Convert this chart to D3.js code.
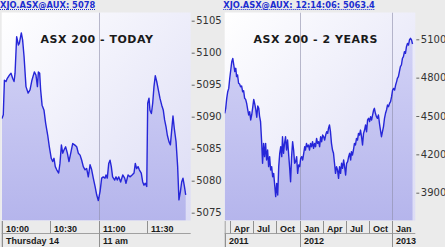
<!DOCTYPE html>
<html><head><meta charset="utf-8">
<script src="https://cdn.jsdelivr.net/npm/d3@7"></script>
<style>
html,body{margin:0;padding:0;background:#ebebeb;overflow:hidden}
svg{display:block}
</style></head><body>
<svg id="c" width="445" height="247"></svg>
<script>
// ---------- TODAY panel data ----------
const todayHeader = "XJO.ASX@AUX: 5078";
const todayTitle = "ASX 200 - TODAY";
const todayMinutes = [0,0.8,1.5,2.5,3.3,4.6,5.6,6.6,7.5,8.1,
 9.1,10.2,10.8,12.0,12.8,13.7,14.9,16.2,17.4,18.6,
 20.1,21.1,22.0,22.6,23.4,24.0,24.9,26.1,27.1,28.4,
 29.4,30.6,31.5,32.3,33.1,34.0,35.2,36.0,36.9,37.7,
 38.5,39.5,40.6,41.6,42.7,43.9,45.1,46.4,47.4,48.5,
 49.5,50.5,51.6,52.6,53.6,54.7,55.7,56.7,57.8,58.8,
 59.8,60.9,61.9,62.9,64.0,64.6,65.4,66.3,67.1,67.9,
 68.7,70.0,70.8,71.6,72.5,73.7,75.0,76.2,77.0,78.3,
 79.5,80.8,82.0,82.8,83.6,84.5,85.3,86.5,87.4,88.2,
 89.0,89.9,90.5,91.3,91.9,92.8,93.6,94.4,95.2,96.1,
 97.1,98.1,99.2,100.2,101.0,101.9,102.7,103.7,104.6,105.4,
 106.2,107.0,108.1,109.1,109.9,110.8,111.6,112.4,113.3,114.1];
const todayValues = [5089.7,5090.3,5095.7,5095.5,5096.0,5096.5,5096.8,5096.0,5095.5,5096.8,
 5102.5,5101.2,5101.5,5103.1,5102.0,5099.4,5094.7,5093.7,5094.2,5095.7,
 5097.0,5096.5,5094.7,5097.0,5096.8,5094.2,5091.8,5091.0,5089.0,5087.1,
 5085.3,5083.5,5083.0,5083.5,5082.2,5081.7,5081.2,5082.7,5085.6,5084.3,
 5084.8,5085.3,5084.3,5083.0,5084.3,5085.8,5085.6,5085.3,5084.3,5084.0,
 5083.2,5082.2,5081.7,5081.9,5080.6,5082.5,5081.7,5080.4,5079.1,5077.8,
 5076.9,5078.3,5080.4,5080.6,5080.4,5080.9,5080.4,5082.7,5083.2,5082.2,
 5080.6,5080.1,5080.6,5080.1,5080.6,5079.8,5080.9,5080.4,5079.6,5080.9,
 5080.6,5080.9,5081.2,5082.7,5081.9,5082.2,5081.7,5081.2,5079.8,5079.3,
 5079.6,5079.1,5092.1,5092.9,5091.0,5090.5,5092.1,5094.7,5096.4,5095.5,
 5094.2,5092.9,5091.8,5091.0,5089.5,5088.4,5087.1,5086.1,5085.6,5087.9,
 5090.1,5088.2,5086.1,5082.2,5077.0,5078.3,5079.8,5080.4,5079.1,5077.8];
const todayTickMinutes = [0,30,60,90];
const todayTickLabels = ["10:00","10:30","11:00","11:30"];
const todayDayMinutes = [0,60];
const todayDayLabels = ["Thursday 14","11 am"];
const todayGridMinutes = [60];
const todayYTicks = [5075,5080,5085,5090,5095,5100,5105];

// ---------- 2 YEARS panel data ----------
const yearsHeader = "XJO.ASX@AUX: 12:14:06: 5063.4";
const yearsTitle = "ASX 200 - 2 YEARS";
const yearsDates = ["2011-03-10","2011-03-14","2011-03-18","2011-03-22","2011-03-26","2011-03-30","2011-04-03","2011-04-07","2011-04-11","2011-04-15",
 "2011-04-19","2011-04-23","2011-04-26","2011-04-30","2011-05-04","2011-05-08","2011-05-12","2011-05-16","2011-05-20","2011-05-24",
 "2011-05-28","2011-06-01","2011-06-05","2011-06-09","2011-06-13","2011-06-17","2011-06-21","2011-06-25","2011-06-29","2011-07-03",
 "2011-07-07","2011-07-11","2011-07-15","2011-07-19","2011-07-23","2011-07-26","2011-07-30","2011-08-03","2011-08-07","2011-08-11",
 "2011-08-15","2011-08-19","2011-08-23","2011-08-27","2011-08-31","2011-09-04","2011-09-08","2011-09-12","2011-09-16","2011-09-20",
 "2011-09-24","2011-09-28","2011-10-02","2011-10-06","2011-10-10","2011-10-14","2011-10-18","2011-10-22","2011-10-25","2011-10-29",
 "2011-11-02","2011-11-06","2011-11-10","2011-11-14","2011-11-18","2011-11-22","2011-11-26","2011-11-30","2011-12-04","2011-12-08",
 "2011-12-12","2011-12-16","2011-12-20","2011-12-24","2011-12-28","2012-01-01","2012-01-05","2012-01-09","2012-01-13","2012-01-17",
 "2012-01-21","2012-01-24","2012-01-28","2012-02-01","2012-02-05","2012-02-09","2012-02-13","2012-02-17","2012-02-21","2012-02-25",
 "2012-02-29","2012-03-04","2012-03-08","2012-03-12","2012-03-16","2012-03-20","2012-03-24","2012-03-28","2012-04-01","2012-04-05",
 "2012-04-09","2012-04-13","2012-04-17","2012-04-21","2012-04-24","2012-04-28","2012-05-02","2012-05-06","2012-05-10","2012-05-14",
 "2012-05-18","2012-05-22","2012-05-26","2012-05-30","2012-06-03","2012-06-07","2012-06-11","2012-06-15","2012-06-19","2012-06-23",
 "2012-06-27","2012-07-01","2012-07-05","2012-07-09","2012-07-13","2012-07-17","2012-07-21","2012-07-24","2012-07-28","2012-08-01",
 "2012-08-05","2012-08-09","2012-08-13","2012-08-17","2012-08-21","2012-08-25","2012-08-29","2012-09-02","2012-09-06","2012-09-10",
 "2012-09-14","2012-09-18","2012-09-22","2012-09-26","2012-09-30","2012-10-04","2012-10-08","2012-10-12","2012-10-16","2012-10-20",
 "2012-10-23","2012-10-27","2012-10-31","2012-11-04","2012-11-08","2012-11-12","2012-11-16","2012-11-20","2012-11-24","2012-11-28",
 "2012-12-02","2012-12-06","2012-12-10","2012-12-14","2012-12-18","2012-12-22","2012-12-26","2012-12-30","2013-01-03","2013-01-07",
 "2013-01-11","2013-01-15","2013-01-19","2013-01-22","2013-01-26","2013-01-30","2013-02-03","2013-02-07","2013-02-11","2013-02-15",
 "2013-02-19","2013-02-23","2013-02-27","2013-03-03","2013-03-07","2013-03-11","2013-03-15","2013-03-19","2013-03-23"];
const yearsValues = [4521,4560,4638,4690,4716,4795,4860,4925,4951,4899,
 4847,4873,4808,4821,4756,4750,4729,4735,4690,4698,
 4638,4630,4599,4552,4508,4534,4469,4508,4568,4630,
 4594,4552,4490,4578,4560,4500,4456,4312,4130,4286,
 4182,4286,4156,4234,4104,4182,4078,4104,4025,4051,
 3960,3869,3973,3882,4104,4208,4260,4182,4338,4208,
 4286,4338,4234,4312,4208,4104,3986,4182,4299,4234,
 4130,4143,4182,4051,4117,4104,4169,4182,4156,4208,
 4260,4234,4286,4260,4273,4234,4286,4260,4299,4247,
 4286,4260,4325,4286,4299,4260,4338,4299,4351,4338,
 4312,4351,4377,4364,4403,4430,4377,4286,4234,4208,
 4130,4051,4104,4078,4012,4104,4051,4130,4091,4156,
 4104,4038,4130,4143,4182,4208,4156,4221,4195,4234,
 4286,4273,4325,4312,4364,4351,4390,4338,4273,4364,
 4390,4430,4377,4469,4482,4456,4495,4469,4508,4547,
 4560,4521,4495,4482,4508,4443,4390,4338,4377,4417,
 4482,4521,4547,4586,4573,4599,4612,4651,4703,4716,
 4703,4742,4769,4795,4808,4847,4886,4899,4951,4964,
 5003,4990,5042,5068,5055,5095,5108,5095,5063];
const yearsTickDates = ["2011-04-01","2011-07-01","2011-10-01","2012-01-01","2012-04-01","2012-07-01","2012-10-01","2013-01-01"];
const yearsTickLabels = ["Apr","Jul","Oct","Jan","Apr","Jul","Oct","Jan"];
const yearsYearDates = ["2011-03-10","2012-01-01","2013-01-01"];
const yearsYearLabels = ["2011","2012","2013"];
const yearsGridDates = ["2012-01-01","2013-01-01"];
const yearsYTicks = [3900,4200,4500,4800,5100];

// ---------- drawing ----------
const parse = d3.timeParse("%Y-%m-%d");
const svg = d3.select("#c");
const defs = svg.append("defs");

const bgGrad = defs.append("linearGradient").attr("id","bgGrad")
  .attr("x1",0).attr("y1",0).attr("x2",1).attr("y2",1);
bgGrad.append("stop").attr("offset",0).attr("stop-color","#ffffff");
bgGrad.append("stop").attr("offset",1).attr("stop-color","#dcdcf5");

const areaGrad = defs.append("linearGradient").attr("id","areaGrad")
  .attr("gradientUnits","userSpaceOnUse").attr("x1",0).attr("y1",12).attr("x2",0).attr("y2",221);
areaGrad.append("stop").attr("offset",0).attr("stop-color","#d6d6f7");
areaGrad.append("stop").attr("offset",1).attr("stop-color","#b5b5ec");

const FONT = "DejaVu Sans, Verdana, sans-serif";
const LABFONT = "Liberation Sans, Arial, sans-serif";

function drawPanel(cfg, idx) {
  const p = cfg.plot;
  const x = cfg.x, y = cfg.y;

  // header
  const h = svg.append("text").attr("x", cfg.headerX).attr("y", 8)
    .attr("font-family", FONT).attr("font-weight","bold").attr("font-size", 8.3)
    .attr("fill", "#1c2ed0").text(cfg.header);
  const hl = h.node().getComputedTextLength();
  svg.append("line").attr("x1", cfg.headerX).attr("x2", cfg.headerX + hl)
    .attr("y1", 9.5).attr("y2", 9.5).attr("stroke", "#1c2ed0")
    .attr("stroke-width", 1).attr("stroke-dasharray", "1,1");

  // plot background
  svg.append("rect").attr("x", p.x0).attr("y", p.y0)
    .attr("width", p.x1 - p.x0).attr("height", p.y1 - p.y0)
    .attr("fill", "url(#bgGrad)");

  const clipId = "clip" + idx;
  defs.append("clipPath").attr("id", clipId).append("rect")
    .attr("x", p.x0).attr("y", p.y0).attr("width", p.x1 - p.x0).attr("height", p.y1 - p.y0);

  const g = svg.append("g").attr("clip-path", `url(#${clipId})`);
  const area = d3.area().x(d => x(d[0])).y0(p.y1).y1(d => y(d[1]));
  const line = d3.line().x(d => x(d[0])).y(d => y(d[1]));
  g.append("path").datum(cfg.data).attr("d", area).attr("fill", "url(#areaGrad)");

  // gridlines
  g.selectAll("line.grid").data(cfg.grid).join("line").attr("class","grid")
    .attr("x1", d => Math.round(x(d)) + 0.5).attr("x2", d => Math.round(x(d)) + 0.5)
    .attr("y1", p.y0).attr("y2", p.y1)
    .attr("stroke", "#8e8eaa").attr("stroke-opacity", 0.6).attr("stroke-width", 1);

  g.append("path").datum(cfg.data).attr("d", line).attr("fill", "none")
    .attr("stroke", "#2626d8").attr("stroke-width", 1.4).attr("stroke-linejoin","round");

  // title
  svg.append("text").attr("x", cfg.titleX).attr("y", 43)
    .attr("font-family", FONT).attr("font-weight", "bold").attr("font-size", 11)
    .attr("letter-spacing", 0.5).attr("fill", "#1a1a1a").text(cfg.title);

  // y axis (right)
  const ya = d3.axisRight(y).tickValues(cfg.yTicks).tickSize(3).tickPadding(1.5)
    .tickFormat(d3.format("d"));
  const ag = svg.append("g").attr("transform", `translate(${p.x1 + 1},0)`).call(ya)
    .attr("font-family", FONT).attr("font-size", 10);
  ag.select(".domain").remove();
  ag.selectAll(".tick line").attr("stroke", "#666");
  ag.selectAll(".tick text").attr("fill", "#333");

  // bottom axis rows
  const r1top = 221, r1bot = 233.5, r2bot = 247;
  const bx = d => Math.max(p.x0, Math.round(x(d)) + 0.5);
  svg.append("line").attr("x1", p.x0).attr("x2", p.x1).attr("y1", r1bot).attr("y2", r1bot)
    .attr("stroke", "#a0a0a0");
  svg.append("line").attr("x1", p.x0 + 0.5).attr("x2", p.x0 + 0.5).attr("y1", r1top).attr("y2", r2bot)
    .attr("stroke", "#a0a0a0");
  svg.selectAll(null).data(cfg.ticks).join("line")
    .attr("x1", d => bx(d)).attr("x2", d => bx(d)).attr("y1", r1top).attr("y2", r1bot)
    .attr("stroke", "#909090");
  svg.selectAll(null).data(cfg.ticks).join("text")
    .attr("x", d => bx(d) + 3.5).attr("y", 231.5)
    .attr("font-family", LABFONT).attr("font-weight","bold").attr("font-size", 9)
    .attr("fill", "#1a1a1a").text((d, i) => cfg.tickLabels[i]);
  svg.selectAll(null).data(cfg.rows2).join("line")
    .attr("x1", d => bx(d)).attr("x2", d => bx(d)).attr("y1", r1bot).attr("y2", r2bot)
    .attr("stroke", "#909090");
  svg.selectAll(null).data(cfg.rows2).join("text")
    .attr("x", d => bx(d) + 3.5).attr("y", 243.5)
    .attr("font-family", LABFONT).attr("font-weight","bold").attr("font-size", 9)
    .attr("fill", "#1a1a1a").text((d, i) => cfg.rows2Labels[i]);
}

// TODAY
const tPlot = {x0: 1.7, x1: 190.7, y0: 12.5, y1: 220.5};
drawPanel({
  plot: tPlot,
  x: d3.scaleLinear().domain([0, 120]).range([2, 195.2]),
  y: d3.scaleLinear().domain([5075, 5105]).range([212.7, 20.7]),
  data: todayMinutes.map((m, i) => [m, todayValues[i]]),
  grid: todayGridMinutes,
  header: todayHeader, headerX: 0,
  title: todayTitle, titleX: 40.5,
  yTicks: todayYTicks,
  ticks: todayTickMinutes, tickLabels: todayTickLabels,
  rows2: todayDayMinutes, rows2Labels: todayDayLabels
}, 0);

// 2 YEARS
const yPlot = {x0: 224.7, x1: 415.3, y0: 12.5, y1: 220.5};
drawPanel({
  plot: yPlot,
  x: d3.scaleTime().domain([parse("2011-03-10"), parse("2013-04-03")]).range([224.7, 415.3]),
  y: d3.scaleLinear().domain([3900, 5100]).range([192.7, 39.3]),
  data: yearsDates.map((d, i) => [parse(d), yearsValues[i]]),
  grid: yearsGridDates.map(parse),
  header: yearsHeader, headerX: 223.3,
  title: yearsTitle, titleX: 253.5,
  yTicks: yearsYTicks,
  ticks: yearsTickDates.map(parse), tickLabels: yearsTickLabels,
  rows2: yearsYearDates.map(parse), rows2Labels: yearsYearLabels
}, 1);
</script>
</body></html>
